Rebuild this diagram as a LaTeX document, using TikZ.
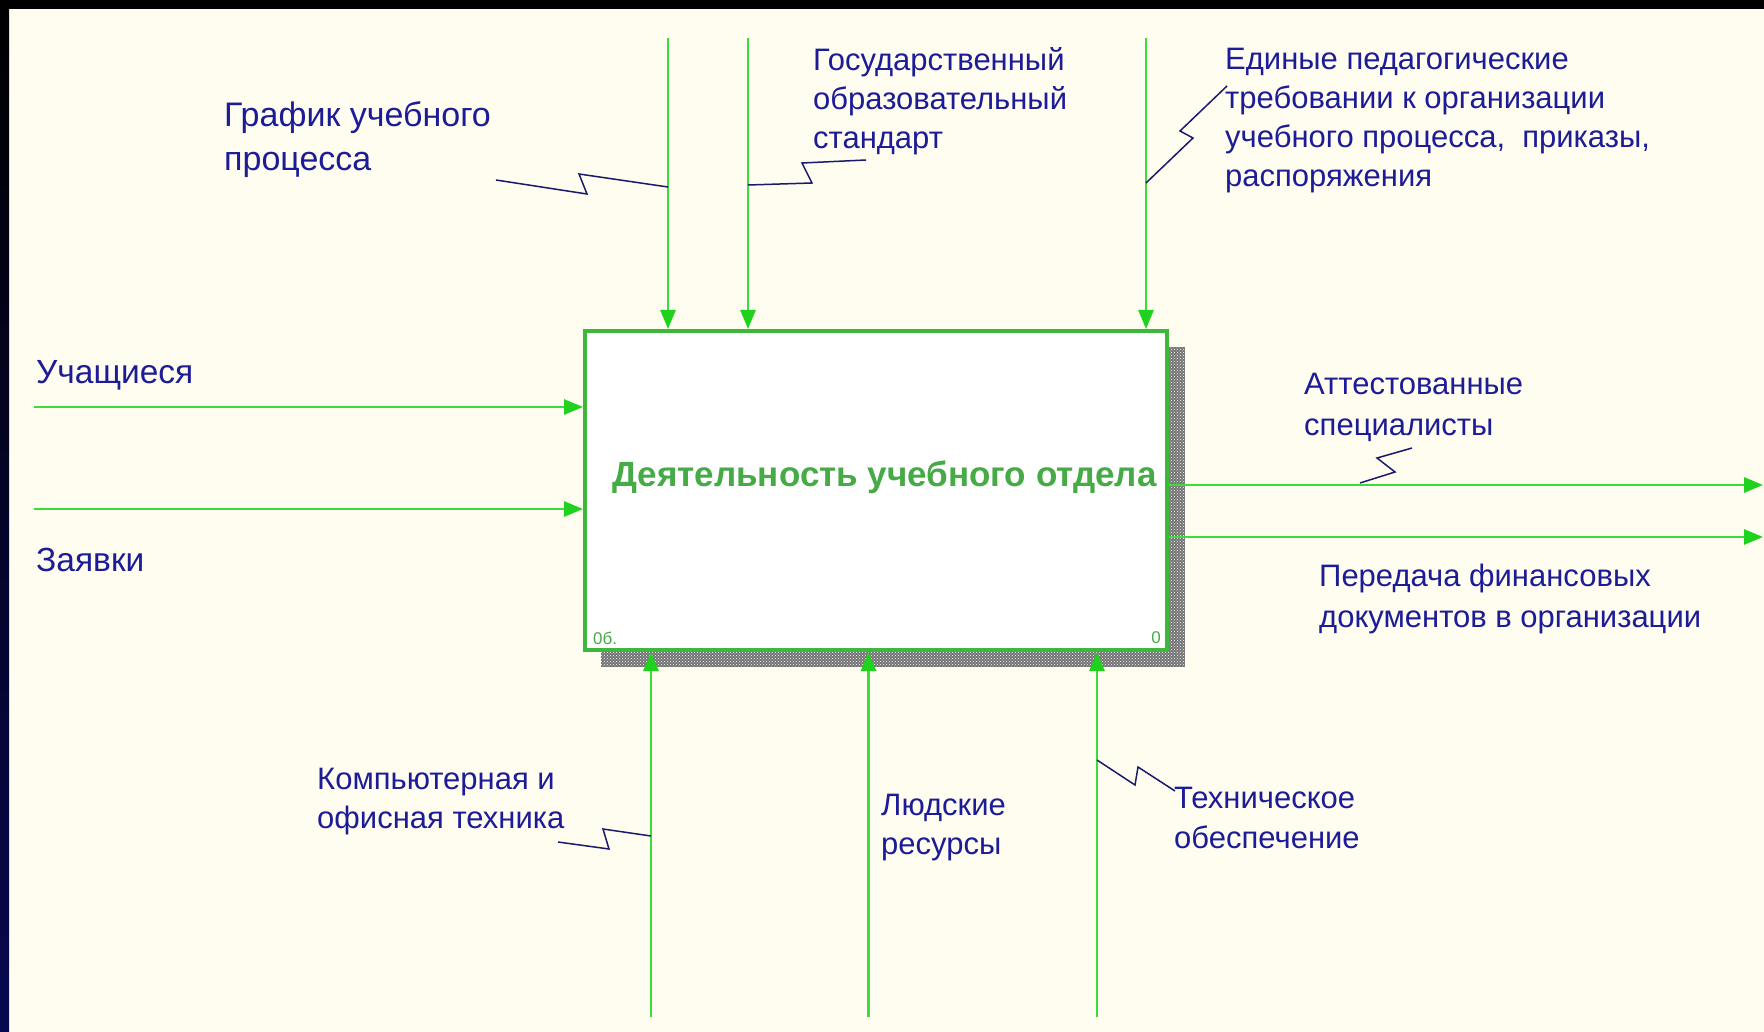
\documentclass[tikz,border=0pt]{standalone}
\usepackage{fontspec}
\setmainfont{Liberation Sans}
\usetikzlibrary{arrows.meta,patterns}
\definecolor{bg}{RGB}{255,252,240}
\definecolor{lbl}{RGB}{28,28,150}
\definecolor{sq}{RGB}{25,25,110}
\definecolor{grn}{RGB}{60,220,60}
\definecolor{boxg}{RGB}{60,185,60}
\definecolor{ttl}{RGB}{70,170,70}
\definecolor{tipg}{RGB}{30,210,30}
\definecolor{navy}{RGB}{8,8,80}
\begin{document}
\begin{tikzpicture}[x=1pt,y=-1pt,
  lab/.style={anchor=west,inner sep=0pt,align=left,text=lbl,font=\fontsize{31}{39}\selectfont},
  arr/.style={draw=grn,line width=2.7pt,-{Triangle[length=19pt,width=15pt,color=tipg]}},
  squig/.style={draw=sq,line width=1.5pt,line join=miter},
  ]
\useasboundingbox (0,0) rectangle (1764,1032);
\fill[bg] (0,0) rectangle (1764,1032);
\fill[black] (0,0) rectangle (1764,9);
\shade[top color=black,bottom color=navy] (0,0) rectangle (9,1032);

% shadow and box
\fill[black!55] (601,347) rectangle (1185,667);
\fill[pattern=crosshatch dots,pattern color=white] (601,347) rectangle (1185,667);
\node[draw=boxg,line width=4pt,fill=white,minimum width=582pt,minimum height=319pt,inner sep=0pt] (box) at (876,490.5) {};
\node[font=\bfseries\fontsize{35}{42}\selectfont,text=ttl,inner sep=0pt] (title) at (884.5,477) {Деятельность учебного отдела};
\node[anchor=west,inner sep=0pt,font=\fontsize{17}{20}\selectfont,text=ttl] (num1) at (593,638) {0б.};
\node[anchor=east,inner sep=0pt,font=\fontsize{17}{20}\selectfont,text=ttl] (num2) at (1161,638) {0};

% controls
\coordinate (c1) at (668,38);
\coordinate (c2) at (748,38);
\coordinate (c3) at (1146,38);
\draw[arr] (c1) -- (c1 |- box.north);
\draw[arr] (c2) -- (c2 |- box.north);
\draw[arr] (c3) -- (c3 |- box.north);

% inputs
\coordinate (i1) at (34,407);
\coordinate (i2) at (34,509);
\draw[arr] (i1) -- (i1 -| box.west);
\draw[arr] (i2) -- (i2 -| box.west);

% outputs
\coordinate (o1) at (1763,485);
\coordinate (o2) at (1763,537);
\draw[arr] (box.east |- o1) -- (o1);
\draw[arr] (box.east |- o2) -- (o2);

% mechanisms
\coordinate (m1) at (651,1017);
\coordinate (m2) at (868.5,1017);
\coordinate (m3) at (1097,1017);
\draw[arr] (m1) -- (m1 |- box.south);
\draw[arr] (m2) -- (m2 |- box.south);
\draw[arr] (m3) -- (m3 |- box.south);

% labels
\node[lab,font=\fontsize{34}{44}\selectfont] (lgraf) at (224,140) {График учебного\\процесса};
\node[lab] (lgos) at (813,101.5) {Государственный\\образовательный\\стандарт};
\node[lab] (ledin) at (1225,121) {Единые педагогические\\требовании к организации\\учебного процесса,~~приказы,\\распоряжения};
\node[lab,font=\fontsize{33.5}{40}\selectfont] (luch) at (36,375) {Учащиеся};
\node[lab,font=\fontsize{33.5}{40}\selectfont] (lzay) at (36,560) {Заявки};
\node[lab,font=\fontsize{31}{41}\selectfont] (latt) at (1304,407) {Аттестованные\\специалисты};
\node[lab,font=\fontsize{31}{41}\selectfont] (lper) at (1319,598.5) {Передача финансовых\\документов в организации};
\node[lab] (lkomp) at (317,802) {Компьютерная и\\офисная техника};
\node[lab] (llyud) at (881,827.5) {Людские\\ресурсы};
\node[lab,font=\fontsize{31}{40}\selectfont] (ltech) at (1174,818) {Техническое\\обеспечение};

% squiggles
\draw[squig] (496,180) -- (587,194) -- (579,174) -- (668,187);
\draw[squig] (748,185) -- (812,183) -- (802,163) -- (866,160);
\draw[squig] (1146,183) -- (1193,138) -- (1180,131) -- (1227,86);
\draw[squig] (1360,483) -- (1395,472) -- (1377,458) -- (1412,448);
\draw[squig] (558,842) -- (609,849) -- (603,829) -- (651,836);
\draw[squig] (1097,760) -- (1135,785) -- (1138,767) -- (1175,791);
\end{tikzpicture}
\end{document}
